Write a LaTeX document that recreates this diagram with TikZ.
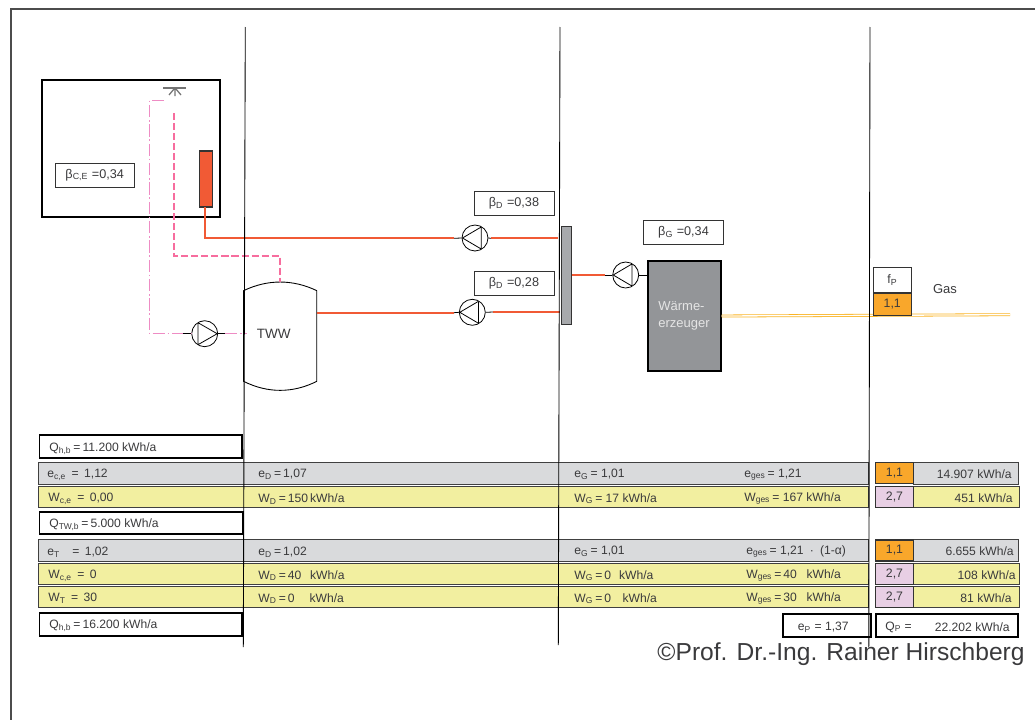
\documentclass[tikz,border=0pt]{standalone}
\usepackage{fontspec}
\setmainfont{Liberation Sans}
\usepackage{xcolor}
\usetikzlibrary{arrows.meta}
\definecolor{zeilgrau}{HTML}{D9DADC}
\definecolor{zeilgelb}{HTML}{F2EFA0}
\definecolor{fporange}{HTML}{F9A72B}
\definecolor{fplila}{HTML}{E8CFE4}
\definecolor{rohrrot}{HTML}{F15A35}
\definecolor{zirkrosa}{HTML}{F76D9E}
\definecolor{strichrosa}{HTML}{EE8CC4}
\definecolor{schrift}{HTML}{3A3A3C}
\definecolor{kesselgrau}{HTML}{939598}
\definecolor{vertgrau}{HTML}{A7A9AC}
\newcommand{\tief}[1]{\textsubscript{#1}}
\tikzset{
  txt/.style={anchor=west, inner sep=0pt, yshift=-0.9pt, text=schrift, font=\fontsize{6.9}{8}\selectfont},
  txtr/.style={anchor=east, inner sep=0pt, yshift=-0.9pt, text=schrift, font=\fontsize{6.9}{8}\selectfont},
  grauzeile/.style={draw=black!75, line width=0.5pt, fill=zeilgrau, anchor=west, inner sep=0pt, minimum width=#1, minimum height=0.44cm},
  grauzeile/.default=16.6cm,
  gelbzeile/.style={draw=black!75, line width=0.5pt, fill=zeilgelb, anchor=west, inner sep=0pt, minimum width=#1, minimum height=0.42cm},
  gelbzeile/.default=16.6cm,
  kasten/.style={draw=black, line width=1pt, fill=white, anchor=west, inner sep=0pt, minimum width=#1, minimum height=0.45cm},
  beta/.style={draw=black!80, line width=0.5pt, fill=white, inner sep=0pt, minimum width=1.6cm, minimum height=0.48cm, text=schrift, font=\fontsize{7.2}{8}\selectfont},
  fakt/.style={draw=black!80, line width=0.6pt, fill=#1, anchor=west, inner sep=0pt, minimum width=0.76cm, minimum height=0.42cm, text=schrift, font=\fontsize{7}{8}\selectfont},
  pumpe/.style={circle, draw=black, line width=0.45pt, fill=white, inner sep=0pt, minimum size=0.52cm},
  pumper/.style={pumpe, path picture={\draw[line width=0.45pt] ([shift={(-6.7,-11)}]path picture bounding box.center) -- ([shift={(12.5,0)}]path picture bounding box.center) -- ([shift={(-6.7,11)}]path picture bounding box.center) -- cycle;}},
  pumpel/.style={pumpe, path picture={\draw[line width=0.45pt] ([shift={(6.2,-11)}]path picture bounding box.center) -- ([shift={(-12.5,0)}]path picture bounding box.center) -- ([shift={(6.2,11)}]path picture bounding box.center) -- cycle;}},
  rohr/.style={draw=rohrrot, line width=1.1pt},
  stutzen/.style={draw=black, line width=0.45pt},
  trenn/.style={draw=black, line width=0.5pt},
}
\begin{document}
\begin{tikzpicture}[x=0.02cm, y=-0.02cm]
  \useasboundingbox (0,0) rectangle (1035,720);
  % rahmen
  \coordinate (ru) at (11,720);
  \coordinate (rl) at (11,9);
  \coordinate (rr) at (1035,9);
  \draw[draw=black!70, line width=0.6pt] (ru) -- (rl) -- (rr);

  % raum
  \node[draw=black, line width=1.2pt, anchor=north west, inner sep=0pt, minimum width=3.56cm, minimum height=2.74cm] (raum) at (41,79.2) {};
  \node[beta, minimum width=1.59cm] (bce) at (94.7,175) {β\tief{C,E} =0,34};
  \node[draw=black!80, line width=0.6pt, fill=rohrrot, inner sep=0pt, minimum width=0.25cm, minimum height=1.12cm] (hk) at (206.2,179) {};
  \coordinate (bl) at (163,87.8);
  \coordinate (br) at (186,87.8);
  \coordinate (bm) at (175,87.8);
  \coordinate (bs) at (175,96);
  \coordinate (bsl) at (169,95);
  \coordinate (bsr) at (181,95);
  \draw[draw=black!55, line width=1pt] (bl) -- (br);
  \draw[draw=black!55, line width=0.7pt] (bm) -- (bs) (bm) -- (bsl) (bm) -- (bsr);

  % speicher
  \node[inner sep=0pt, minimum width=1.45cm, minimum height=1.8cm] (tww) at (280.2,336) {};
  \draw[fill=white, line width=0.5pt] (tww.north west) .. controls +(24,-11.5) and +(-24,-11.5) .. (tww.north east) -- (tww.south east) .. controls +(-24,12) and +(24,12) .. (tww.south west) -- cycle;
  \node[inner sep=0pt, text=schrift, font=\fontsize{7.7}{8}\selectfont] (twwt) at (273.7,334) {TWW};

  % pumpen
  \node[pumper] (pz) at (204.7,333.7) {};
  \node[pumpel] (pa) at (475,238) {};
  \node[pumpel] (pb) at (472.3,312.3) {};
  \node[pumpel] (pc) at (625.7,275) {};

  % verteiler und erzeuger
  \node[draw=black!80, line width=0.6pt, fill=vertgrau, inner sep=0pt, minimum width=0.2cm, minimum height=1.97cm] (vert) at (566.3,275.7) {};
  \node[draw=black, line width=0.7pt, fill=kesselgrau, inner sep=0pt, minimum width=1.46cm, minimum height=2.2cm] (erz) at (684.5,316) {};
  \node[anchor=west, inner sep=0pt, align=left, text=white!90!black, font=\fontsize{7.4}{9.6}\selectfont] (erzt) at (658,316) {Wärme-\\erzeuger};
  \node[beta] (bda) at (514,203) {β\tief{D} =0,38};
  \node[beta] (bdb) at (514,283) {β\tief{D} =0,28};
  \node[beta] (bg) at (683.5,232) {β\tief{G} =0,34};

  % leitungen
  \coordinate (ha) at (205.2,207);
  \coordinate (hb) at (205.2,238.3);
  \coordinate (hc) at (454,238.3);
  \coordinate (hd) at (491,238.3);
  \coordinate (he) at (558,238.3);
  \coordinate (sa) at (317,312.7);
  \coordinate (sb) at (454,312.7);
  \coordinate (sc) at (493,312);
  \coordinate (sd) at (560,312);
  \coordinate (va) at (605,275);
  \draw[rohr] (ha) -- (hb) -- (hc);
  \draw[rohr] (hd) -- (he);
  \draw[rohr] (sa) -- (sb);
  \draw[rohr] (sc) -- (sd);
  \draw[rohr] (vert.east |- va) -- (va);
  \draw[stutzen] (hc) -- (pa.west);
  \draw[stutzen] (pa.east) -- (hd);
  \draw[stutzen] (sb) -- (pb.west);
  \draw[stutzen] (pb.east) -- (sc);
  \draw[stutzen] (va) -- (pc.west);
  \draw[stutzen] (pc.east) -- (erz.west |- pc);

  % zirkulation
  \coordinate (za) at (174.2,113);
  \coordinate (zb) at (174.2,256);
  \coordinate (zc) at (280,256);
  \coordinate (zd) at (280,282);
  \draw[draw=zirkrosa, line width=1.3pt, dash pattern=on 4pt off 1.7pt] (za) -- (zb) -- (zc) -- (zd);
  \coordinate (da) at (164,100.4);
  \coordinate (db) at (149.4,100.4);
  \coordinate (dc) at (149.4,333.7);
  \coordinate (dd) at (192,333.7);
  \coordinate (dz) at (183,333.7);
  \coordinate (de) at (225,333.7);
  \coordinate (df) at (247,333.7);
  \draw[draw=strichrosa, line width=0.7pt, dash pattern=on 7pt off 1.5pt on 1pt off 1.5pt] (da) -- (db) -- (dc) -- (dd);
  \draw[draw=strichrosa, line width=0.7pt, dash pattern=on 7pt off 1.5pt on 1pt off 1.5pt] (de) -- (df);
  \draw[stutzen] (dz) -- (pz.west);
  \draw[stutzen] (pz.east) -- (de);

  % gas
  \coordinate (ga) at (721.5,316);
  \coordinate (gb) at (1010,314.7);
  \draw[draw=fporange!85!yellow, line width=0.45pt, double=white, double distance=0.75pt] (ga) -- (gb);
  \node[draw=black!80, line width=0.6pt, fill=white, anchor=north west, inner sep=0pt, minimum width=0.76cm, minimum height=0.5cm, text=schrift, font=\fontsize{7}{8}\selectfont] (fp) at (873,267) {f\tief{P}};
  \node[fakt=fporange, anchor=north west, minimum width=0.77cm, minimum height=0.44cm] (fg) at (872.5,293) {1,1};
  \node[inner sep=0pt, text=schrift, font=\fontsize{7.4}{8}\selectfont] (gas) at (945,289.5) {Gas};

  % zeilen
  \node[kasten=4.05cm] (qa) at (38.5,446.5) {};
  \node[grauzeile] (z1) at (38,473) {};
  \node[gelbzeile] (z2) at (38,497) {};
  \node[kasten=4.08cm] (qb) at (38.5,523) {};
  \node[grauzeile] (z3) at (38,550.5) {};
  \node[gelbzeile] (z4) at (38,574) {};
  \node[gelbzeile] (z5) at (38,597) {};
  \node[kasten=4.06cm] (qc) at (38.5,624.5) {};
  \node[kasten=1.76cm] (ep) at (782,625.5) {};
  \node[kasten=2.85cm] (qp) at (875,625.5) {};

  \node[grauzeile=2.1cm] (w1) at (913,473) {};
  \node[gelbzeile=2.14cm] (w2) at (912.5,497) {};
  \node[grauzeile=2.1cm] (w3) at (913,550.5) {};
  \node[gelbzeile=2.14cm] (w4) at (912.5,574) {};
  \node[gelbzeile=2.14cm] (w5) at (912.5,597) {};
  \node[fakt=fporange] (f1) at (875,473) {1,1};
  \node[fakt=fplila] (f2) at (875,497) {2,7};
  \node[fakt=fporange] (f3) at (875,550.5) {1,1};
  \node[fakt=fplila] (f4) at (875,574) {2,7};
  \node[fakt=fplila] (f5) at (875,597) {2,7};

  % texte
  \node[txt] (tqa) at (49,447) {Q\tief{h,b}\,=\,11.200 kWh/a};
  \node[txt] (t1a) at (47,473) {e\tief{c,e}\, = \,1,12};
  \node[txt] (t2a) at (48,497.5) {W\tief{c,e}\, = \,0,00};
  \node[txt] (tqb) at (49,523) {Q\tief{TW,b}\,=\,5.000 kWh/a};
  \node[txt] (t3a) at (47,550.5) {e\tief{T}\hspace{5pt} = \,1,02};
  \node[txt] (t4a) at (48,574) {W\tief{c,e}\, = \,0};
  \node[txt] (t5a) at (48,597) {W\tief{T}\, = \,30};
  \node[txt] (tqc) at (49,624.5) {Q\tief{h,b}\,=\,16.200 kWh/a};

  \node[txt] (t1b) at (258,473) {e\tief{D}\,=\,1,07};
  \node[txt] (t2b) at (258,497.5) {W\tief{D}\,=\,150\,kWh/a};
  \node[txt] (t3b) at (258,550.5) {e\tief{D}\,=\,1,02};
  \node[txt] (t4b) at (258,574) {W\tief{D}\,=\,40\hspace{5pt}kWh/a};
  \node[txt] (t5b) at (258,597) {W\tief{D}\,=\,0\hspace{8.5pt}kWh/a};

  \node[txt] (t1c) at (574,473) {e\tief{G}\,= 1,01};
  \node[txt] (t2c) at (574,497) {W\tief{G}\,= 17 kWh/a};
  \node[txt] (t3c) at (574,550) {e\tief{G}\,= 1,01};
  \node[txt] (t4c) at (574,574) {W\tief{G}\,=\,0\hspace{4.5pt}kWh/a};
  \node[txt] (t5c) at (574,597) {W\tief{G}\,=\,0\hspace{6.5pt}kWh/a};

  \node[txt] (t1d) at (744,473) {e\tief{ges}\,= 1,21};
  \node[txt] (t2d) at (744,497) {W\tief{ges}\,= 167 kWh/a};
  \node[txt] (t3d) at (746,550) {e\tief{ges}\,= 1,21\hspace{3.5pt}·\hspace{3.5pt}(1-α)};
  \node[txt] (t4d) at (746,574) {W\tief{ges}\,=\,40\hspace{5.5pt}kWh/a};
  \node[txt] (t5d) at (746,597) {W\tief{ges}\,=\,30\hspace{5.5pt}kWh/a};

  \node[txtr] (t1e) at (1012,473) {14.907 kWh/a};
  \node[txtr] (t2e) at (1013,497) {451 kWh/a};
  \node[txtr] (t3e) at (1014,550) {6.655 kWh/a};
  \node[txtr] (t4e) at (1016,574) {108 kWh/a};
  \node[txtr] (t5e) at (1012,597) {81 kWh/a};
  \node[txtr] (tep) at (849,625.5) {e\tief{P} = 1,37};
  \node[txt] (tqp) at (885,625.5) {Q\tief{P} =};
  \node[txtr] (tqw) at (1010,625.5) {22.202 kWh/a};

  \node[anchor=east, inner sep=0pt, text=schrift, font=\fontsize{14}{16}\selectfont] (copy) at (1025,654) {©Prof. Dr.-Ing. Rainer Hirschberg};

  % trennlinien
  \coordinate (la) at (245.3,27);
  \coordinate (lb) at (243.3,647);
  \coordinate (lc) at (560,27);
  \coordinate (ld) at (558.3,645);
  \coordinate (le) at (870,27);
  \coordinate (lf) at (868.8,647);
  \draw[trenn] (la) -- (lb);
  \draw[trenn] (lc) -- (ld);
  \draw[trenn] (le) -- (lf);
\end{tikzpicture}
\end{document}
